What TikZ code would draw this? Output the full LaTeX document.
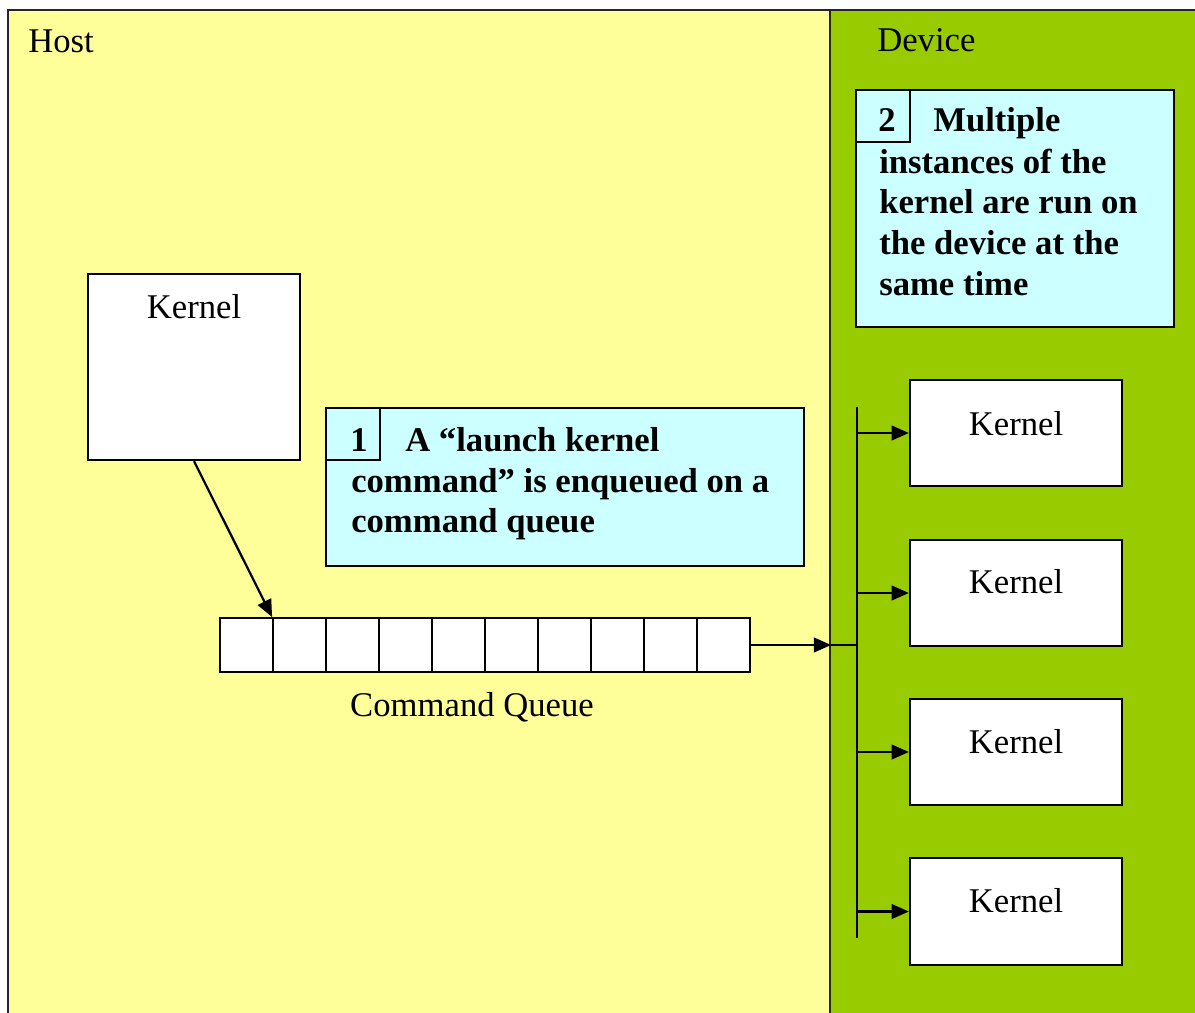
\documentclass[tikz,border=0pt]{standalone}
\usepackage{fontspec}
\setmainfont{Liberation Serif}
\usetikzlibrary{arrows.meta,fit}
\definecolor{hostbg}{HTML}{FFFF99}
\definecolor{devbg}{HTML}{99CC00}
\definecolor{notebg}{HTML}{CCFFFF}
\begin{document}
\begin{tikzpicture}[x=0.75pt,y=-0.75pt,
  txt/.style={font=\fontsize{26}{30}\selectfont, inner sep=0pt},
  notetxt/.style={font=\fontsize{26}{30}\selectfont\bfseries, inner sep=0pt, anchor=base west},
  whitebox/.style={draw=black, line width=1.7pt, fill=white, inner sep=0pt},
  notebox/.style={draw=black, line width=1.7pt, fill=notebg, inner sep=0pt},
  numbox/.style={draw=black, line width=1.3pt, inner sep=0pt},
  link/.style={line width=1.7pt, -{Triangle[length=13pt,width=11pt]}},
  wire/.style={line width=1.7pt}]
\useasboundingbox (0,0) rectangle (1195,1013);
\fill[white] (0,0) rectangle (1195,1013);

% host and device areas
\begin{scope}
  \clip (0,0) rectangle (1195,1013);
  \node[fit={(8,10)(830,1030)}, draw=black!85, line width=1.7pt, fill=hostbg, inner sep=0pt] (host) {};
  \node[fit={(830,10)(1215,1030)}, draw=black!85, line width=1.7pt, fill=devbg, inner sep=0pt] (device) {};
\end{scope}
\node[txt, anchor=base west] (hostlbl) at (28,53) {Host};
\node[txt, anchor=base west] (devlbl) at (877,52) {Device};

% kernel on the host
\node[whitebox, fit={(88,274)(300,460)}] (hk) {};
\node[txt, anchor=base] (hkt) at (194,318) {Kernel};

% note 1
\node[notebox, fit={(326,408)(804,566)}] (note1) {};
\node[numbox, fit={(326,408)(380,460)}] (num1) {};
\node[notetxt] (n1num) at (350,451) {1};
\node[notetxt] (n1a) at (405,451) {A “launch kernel};
\node[notetxt] (n1b) at (351,492) {command” is enqueued on a};
\node[notetxt] (n1c) at (351,532) {command queue};

% command queue
\foreach \i in {0,...,9}
  \node[whitebox, line width=1.3pt, fit={({220+53*\i},618)({273+53*\i},672)}] (q\i) {};
\node[txt, anchor=base] (cql) at (472,716) {Command Queue};

% note 2
\node[notebox, fit={(856,90)(1174,327)}] (note2) {};
\node[numbox, fit={(856,90)(910,142)}] (num2) {};
\node[notetxt] (n2num) at (878,132) {2};
\node[notetxt] (n2a) at (933,132) {Multiple};
\node[notetxt] (n2b) at (879,174) {instances of the};
\node[notetxt] (n2c) at (879,214) {kernel are run on};
\node[notetxt] (n2d) at (879,254) {the device at the};
\node[notetxt] (n2e) at (879,295) {same time};

% kernels on the device
\node[whitebox, fit={(910,380)(1122,486)}] (dk1) {};
\node[whitebox, fit={(910,540)(1122,646)}] (dk2) {};
\node[whitebox, fit={(910,699)(1122,805)}] (dk3) {};
\node[whitebox, fit={(910,858)(1122,965)}] (dk4) {};
\node[txt, anchor=base] (dk1t) at (1016,435) {Kernel};
\node[txt, anchor=base] (dk2t) at (1016,593) {Kernel};
\node[txt, anchor=base] (dk3t) at (1016,753) {Kernel};
\node[txt, anchor=base] (dk4t) at (1016,912) {Kernel};

% connectors
\coordinate (bustop) at (857,407);
\coordinate (busbot) at (857,938);
\coordinate (busin) at (q9.east -| host.east);
\draw[link] (hk.south) -- (q1.north west);
\draw[link] (q9.east) -- (busin);
\draw[wire] (busin) -- (busin -| bustop);
\draw[wire] (bustop) -- (busbot);
\foreach \k in {1,...,4}
  \draw[link] (dk\k.west -| bustop) -- (dk\k.west);
\end{tikzpicture}
\end{document}
